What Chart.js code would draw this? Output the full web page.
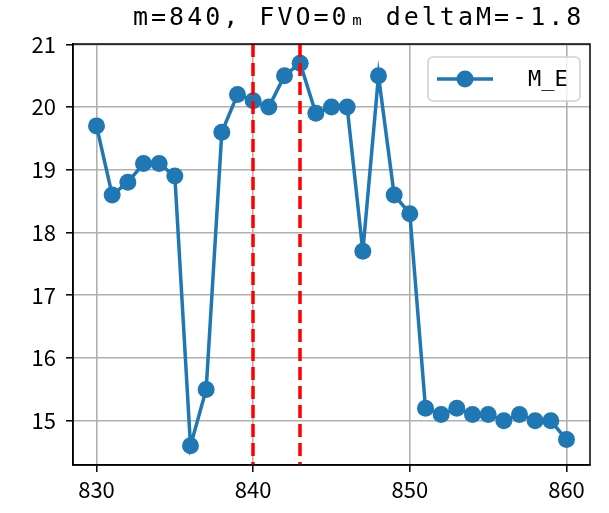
<!DOCTYPE html>
<html>
<head>
<meta charset="utf-8">
<script src="https://cdn.jsdelivr.net/npm/chart.js@4"></script>
<style>
  html, body { margin: 0; padding: 0; background: #fff; }
  #wrap { width: 609px; height: 513px; }
</style>
</head>
<body>
<div id="wrap"><canvas id="chart" width="609" height="513"></canvas></div>
<script>
// data
const xValues = [830, 831, 832, 833, 834, 835, 836, 837, 838, 839, 840, 841, 842, 843, 844, 845,
                 846, 847, 848, 849, 850, 851, 852, 853, 854, 855, 856, 857, 858, 859, 860];
const meValues = [19.7, 18.6, 18.8, 19.1, 19.1, 18.9, 14.6, 15.5, 19.6, 20.2, 20.1, 20.0, 20.5, 20.7, 19.9, 20.0,
                  20.0, 17.7, 20.5, 18.6, 18.3, 15.2, 15.1, 15.2, 15.1, 15.1, 15.0, 15.1, 15.0, 15.0, 14.7];
const vLines = [840, 843];
const xTicks = [830, 840, 850, 860];
const yTicks = [15, 16, 17, 18, 19, 20, 21];
const titleText = 'm=840, FVO=0ₘ deltaM=-1.8';
const legendLabel = 'M_E';

const blue = '#1f77b4';
const monoFont = '"DejaVu Sans Mono", monospace';
const tickFont = '"Noto Sans CJK JP", "Noto Sans", sans-serif';

// axvline, top/right spines, legend and title
const extras = {
    id: 'extras',
    afterDatasetsDraw(chart) {
        const ctx = chart.ctx;
        const area = chart.chartArea;
        const xs = chart.scales.x;

        ctx.save();
        ctx.strokeStyle = 'red';
        ctx.lineWidth = 3.5;
        ctx.setLineDash([13, 6]);
        vLines.forEach(v => {
            const px = Math.round(xs.getPixelForValue(v));
            ctx.beginPath();
            ctx.moveTo(px, area.top);
            ctx.lineTo(px, area.bottom);
            ctx.stroke();
        });
        ctx.restore();

        // full frame
        ctx.save();
        ctx.strokeStyle = '#000';
        ctx.lineWidth = 1.5;
        ctx.strokeRect(area.left, area.top, area.right - area.left, area.bottom - area.top);
        ctx.restore();

        // legend box
        ctx.save();
        const lx = 428, ly = 57, lw = 152, lh = 44;
        ctx.beginPath();
        ctx.roundRect(lx, ly, lw, lh, 5);
        ctx.fillStyle = 'rgba(255,255,255,0.8)';
        ctx.fill();
        ctx.strokeStyle = '#d0d0d0';
        ctx.lineWidth = 1.5;
        ctx.stroke();
        ctx.strokeStyle = blue;
        ctx.lineWidth = 3.5;
        ctx.beginPath();
        ctx.moveTo(437, 79);
        ctx.lineTo(493, 79);
        ctx.stroke();
        ctx.fillStyle = blue;
        ctx.beginPath();
        ctx.arc(465, 79, 8.5, 0, Math.PI * 2);
        ctx.fill();
        ctx.fillStyle = '#000';
        ctx.font = '22px ' + monoFont;
        ctx.textBaseline = 'middle';
        ctx.fillText(legendLabel, 528, 80);
        ctx.restore();
    },
    afterDraw(chart) {
        const ctx = chart.ctx;
        ctx.save();
        ctx.fillStyle = '#000';
        ctx.font = '25px ' + monoFont;
        ctx.letterSpacing = '3px';
        ctx.textBaseline = 'middle';
        ctx.textAlign = 'left';
        ctx.fillText(titleText, 133, 18);
        ctx.restore();
    }
};

new Chart(document.getElementById('chart'), {
    type: 'line',
    data: {
        datasets: [{
            label: legendLabel,
            data: xValues.map((x, i) => ({ x: x, y: meValues[i] })),
            borderColor: blue,
            backgroundColor: blue,
            borderWidth: 3.5,
            pointRadius: 8.5,
            pointHoverRadius: 8.5,
            pointBorderWidth: 0,
            tension: 0,
            clip: false
        }]
    },
    options: {
        responsive: false,
        animation: false,
        layout: { padding: { top: 44, right: 19, left: 0, bottom: 0 } },
        plugins: {
            legend: { display: false },
            title: { display: false },
            tooltip: { enabled: false }
        },
        scales: {
            x: {
                type: 'linear',
                min: 828.5,
                max: 861.5,
                afterBuildTicks: s => { s.ticks = xTicks.map(v => ({ value: v })); },
                afterFit: s => { s.height = 48; },
                grid: { color: '#b0b0b0', lineWidth: 1.6, tickColor: '#000', tickLength: 7, tickWidth: 1.5 },
                border: { color: '#000', width: 1.5 },
                ticks: { color: '#000', font: { family: tickFont, size: 22 }, padding: 4, maxRotation: 0 }
            },
            y: {
                min: 14.295,
                max: 21.005,
                afterBuildTicks: s => { s.ticks = yTicks.map(v => ({ value: v })); },
                afterFit: s => { s.width = 73; },
                grid: { color: '#b0b0b0', lineWidth: 1.6, tickColor: '#000', tickLength: 7, tickWidth: 1.5 },
                border: { color: '#000', width: 1.5 },
                ticks: { color: '#000', font: { family: tickFont, size: 22 }, padding: 10 }
            }
        }
    },
    plugins: [extras]
});
</script>
</body>
</html>
